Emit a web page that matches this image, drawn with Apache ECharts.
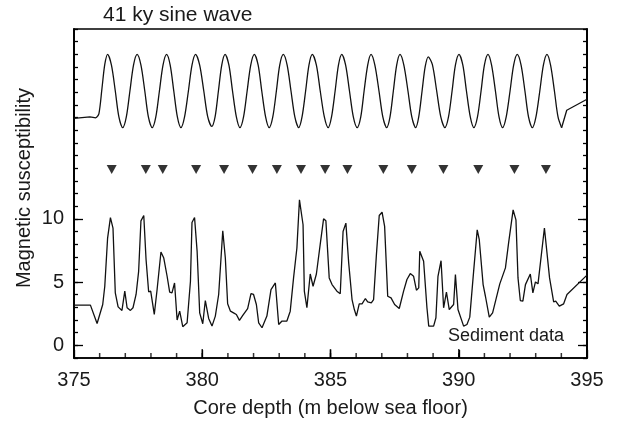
<!DOCTYPE html>
<html>
<head>
<meta charset="utf-8">
<script src="https://cdn.jsdelivr.net/npm/echarts@6/dist/echarts.min.js"></script>
<style>
html,body{margin:0;padding:0;background:#fff;}
#chart{width:618px;height:421px;}
</style>
</head>
<body>
<div id="chart"></div>
<script>
// ---- data ----
var sedDepth = [375.00,375.64,375.90,376.12,376.20,376.31,376.42,376.52,376.61,376.72,376.87,376.98,377.07,377.20,377.30,377.42,377.52,377.61,377.72,377.81,377.91,377.99,378.13,378.24,378.39,378.50,378.63,378.73,378.82,378.92,379.02,379.12,379.24,379.41,379.54,379.60,379.70,379.80,379.90,380.02,380.12,380.25,380.38,380.51,380.64,380.80,380.90,380.99,381.10,381.22,381.33,381.45,381.58,381.77,381.90,382.00,382.11,382.20,382.33,382.52,382.68,382.85,382.98,383.11,383.30,383.43,383.56,383.69,383.79,383.93,383.98,384.08,384.21,384.32,384.45,384.60,384.73,384.82,384.95,385.06,385.25,385.38,385.49,385.60,385.71,385.84,385.93,386.01,386.12,386.23,386.36,386.45,386.59,386.68,386.79,386.90,387.01,387.11,387.23,387.36,387.50,387.68,387.85,387.98,388.11,388.24,388.35,388.44,388.48,388.63,388.76,388.83,389.02,389.11,389.19,389.31,389.41,389.52,389.63,389.80,389.87,389.97,390.19,390.32,390.43,390.58,390.72,390.80,390.95,391.04,391.19,391.32,391.60,391.82,391.95,392.12,392.23,392.31,392.40,392.50,392.60,392.79,392.89,392.99,393.09,393.34,393.40,393.54,393.70,393.78,393.92,394.09,394.22,395.00];
var sedValue = [3.18,3.18,1.73,3.23,4.67,8.48,10.1,9.27,4.15,3.04,2.76,4.28,2.97,2.76,2.97,4.02,5.85,9.84,10.26,6.77,4.23,4.28,2.44,4.41,7.38,6.90,5.46,4.20,4.15,4.93,2.00,2.70,1.47,1.78,5.07,9.71,10.1,7.43,2.57,1.71,3.54,2.13,1.52,2.31,4.02,9.06,6.90,3.28,2.70,2.57,2.44,1.97,2.36,2.91,4.09,4.02,3.23,1.78,1.39,2.31,4.41,4.93,1.65,1.92,1.92,2.70,5.33,7.69,11.5,9.53,4.28,2.97,5.64,4.67,5.64,8.00,10.0,9.84,5.33,4.80,4.28,4.07,9.00,9.66,6.50,3.62,2.83,2.31,3.28,3.28,3.70,3.44,3.36,3.62,7.17,10.26,10.52,9.40,3.88,3.75,3.23,2.91,4.28,5.20,5.67,5.46,4.36,4.54,7.43,6.64,2.97,1.52,1.52,2.18,5.46,6.69,2.97,4.20,2.83,3.23,5.59,2.83,1.52,1.65,2.23,5.85,9.13,8.35,4.80,3.88,2.23,2.57,4.86,6.12,8.20,10.7,9.92,5.33,3.54,3.49,4.80,5.64,4.15,5.01,4.86,9.27,9.13,5.33,3.44,3.49,3.10,3.28,4.02,5.55];

// sine wave: lead-in, oscillating part, tail
var sineLeadDepth = [375.00,375.62,375.86];
var sineLeadValue = [17.93,18.06,17.98];
var sineDepth = [375.86,375.97,376.09,376.20,376.31,
 376.46,376.61,376.75,376.90, 377.04,377.18,377.32,377.46,
 377.61,377.76,377.90,378.05, 378.19,378.33,378.47,378.61,
 378.75,378.89,379.03,379.17, 379.31,379.46,379.60,379.74,
 379.90,380.06,380.21,380.37, 380.50,380.63,380.76,380.89,
 381.04,381.18,381.33,381.47, 381.61,381.75,381.89,382.03,
 382.18,382.32,382.47,382.61, 382.75,382.89,383.02,383.16,
 383.31,383.46,383.61,383.76, 383.89,384.03,384.16,384.29,
 384.45,384.60,384.76,384.91, 385.04,385.18,385.31,385.44,
 385.59,385.74,385.89,386.04, 386.18,386.31,386.45,386.58,
 386.73,386.89,387.04,387.19, 387.32,387.45,387.58,387.71,
 387.86,388.02,388.17,388.32, 388.44,388.57,388.69,388.81,
 388.97,389.14,389.30,389.46, 389.60,389.74,389.87,390.01,
 390.16,390.30,390.45,390.59, 390.73,390.87,391.00,391.14,
 391.28,391.43,391.57,391.71, 391.85,392.00,392.14,392.28,
 392.43,392.58,392.72,392.87, 393.01,393.16,393.30,393.44,
 393.58,393.73,393.87,394.01];
var sineValue = [17.98,18.3,20.3,22.2,23.0,
 22.15,20.1,18.05,17.2, 18.05,20.1,22.15,23.0,
 22.15,20.1,18.05,17.2, 18.05,20.1,22.15,23.0,
 22.15,20.1,18.05,17.2, 18.05,20.1,22.15,23.0,
 22.15,20.1,18.1,17.3, 18.05,20.1,22.15,23.0,
 22.15,20.1,18.05,17.2, 18.05,20.1,22.15,23.0,
 22.15,20.1,18.05,17.2, 18.05,20.1,22.15,23.0,
 22.15,20.1,18.05,17.2, 18.05,20.1,22.15,23.0,
 22.15,20.1,18.05,17.2, 18.05,20.1,22.15,23.0,
 22.15,20.1,18.05,17.2, 18.05,20.1,22.15,23.0,
 22.15,20.1,18.05,17.2, 18.05,20.1,22.15,23.0,
 22.15,20.1,18.05,17.2, 18.05,20.1,22.0,22.8,
 22.2,20.1,18.05,17.2, 18.05,20.1,22.15,23.0,
 22.15,20.1,18.05,17.2, 18.05,20.1,22.15,23.0,
 22.15,20.1,18.05,17.2, 18.05,20.1,22.15,23.0,
 22.15,20.1,18.05,17.2, 18.05,20.1,22.15,23.0,
 22.15,20.1,18.05,17.2];
var sineTailDepth = [394.01,394.21,395.00];
var sineTailValue = [17.2,18.58,19.45];

// tuning markers
var markerDepth = [376.47,377.80,378.46,379.76,380.85,381.96,382.91,383.85,384.79,385.66,387.06,388.17,389.40,390.76,392.17,393.40];
var markerValue = [13.9,13.9,13.9,13.9,13.9,13.9,13.9,13.9,13.9,13.9,13.9,13.9,13.9,13.9,13.9,13.9];

// axis ticks / labels
var xTickLabels = [375,380,385,390,395];
var xMinorTicks = [375,376,377,378,379,380,381,382,383,384,385,386,387,388,389,390,391,392,393,394,395];
var yTickLabels = [0,5,10];

var titleText = '41 ky sine wave';
var sedLabel = 'Sediment data';
var xName = 'Core depth (m below sea floor)';
var yName = 'Magnetic susceptibility';

// ---- chart ----
var Y_MIN = -1, Y_MAX = 25;
function pairs(a,b){var r=[];for(var i=0;i<a.length;i++){r.push([a[i],b[i]]);}return r;}
function atBottom(a){var r=[];for(var i=0;i<a.length;i++){r.push([a[i],Y_MIN]);}return r;}
var FONT = 'Liberation Sans, Arial, Helvetica, sans-serif';
var TXT = '#1a1a1a';
var LINE = '#111';
var AX = {color:'#000', width:1.5};
var TK = {color:'#000', width:1.3};

var chart = echarts.init(document.getElementById('chart'), null, {renderer:'canvas'});
var minorY = [];
for (var t = Y_MIN; t <= Y_MAX; t++) minorY.push(t);

var option = {
  animation: false,
  backgroundColor: '#fff',
  grid: {left:74, right:31, top:29, bottom:63, containLabel:false, outerBoundsMode:'none',
         show:true, borderColor:'#000', borderWidth:1.5, backgroundColor:'transparent'},
  xAxis: [{
    type:'value', min:375, max:395, position:'bottom', zlevel:1, z:10,
    axisLine:{show:true, onZero:false, lineStyle:AX},
    axisTick:{show:true, inside:true, length:8, customValues:xTickLabels, lineStyle:TK},
    splitLine:{show:false},
    axisLabel:{customValues:xTickLabels, fontSize:20, color:TXT, fontFamily:FONT, margin:12},
    name:xName, nameLocation:'middle', nameGap:40,
    nameTextStyle:{fontSize:20, color:TXT, fontFamily:FONT}
  }],
  yAxis: [{
    type:'value', min:Y_MIN, max:Y_MAX, position:'left',
    axisLine:{show:true, onZero:false, lineStyle:AX},
    axisTick:{show:true, inside:true, length:4, customValues:minorY, lineStyle:TK},
    splitLine:{show:false},
    axisLabel:{customValues:yTickLabels, fontSize:20, color:TXT, fontFamily:FONT, margin:10}
  },{
    type:'value', min:Y_MIN, max:Y_MAX, position:'left',
    axisLine:{show:true, onZero:false, lineStyle:AX},
    axisTick:{show:true, inside:true, length:9, customValues:yTickLabels, lineStyle:TK},
    splitLine:{show:false}, axisLabel:{show:false}
  },{
    type:'value', min:Y_MIN, max:Y_MAX, position:'right',
    axisLine:{show:true, onZero:false, lineStyle:AX},
    axisTick:{show:true, inside:true, length:4, customValues:minorY, lineStyle:TK},
    splitLine:{show:false}, axisLabel:{show:false}
  },{
    type:'value', min:Y_MIN, max:Y_MAX, position:'right',
    axisLine:{show:true, onZero:false, lineStyle:AX},
    axisTick:{show:true, inside:true, length:9, customValues:yTickLabels, lineStyle:TK},
    splitLine:{show:false}, axisLabel:{show:false}
  }],
  graphic: [
    {type:'text', left:103, top:5, style:{text:titleText, fontSize:21, fill:TXT, fontFamily:FONT}},
    {type:'text', left:448, top:327, style:{text:sedLabel, fontSize:18, fill:TXT, fontFamily:FONT}},
    {type:'text', x:24, y:188, rotation:Math.PI/2, style:{text:yName, fontSize:20, fill:TXT, fontFamily:FONT, align:'center', verticalAlign:'middle'}}
  ],
  series: [
    {type:'line', data:pairs(sedDepth, sedValue), showSymbol:false, lineStyle:{color:LINE, width:1.3}, silent:true},
    {type:'line', data:pairs(sineLeadDepth, sineLeadValue), showSymbol:false, lineStyle:{color:LINE, width:1.3}, silent:true},
    {type:'line', data:pairs(sineDepth, sineValue), smooth:0.3, showSymbol:false, lineStyle:{color:LINE, width:1.3}, silent:true},
    {type:'line', data:pairs(sineTailDepth, sineTailValue), showSymbol:false, lineStyle:{color:LINE, width:1.3}, silent:true},
    {type:'scatter', data:pairs(markerDepth, markerValue), symbol:'path://M0,0 L10,0 L5,9 Z', symbolSize:[10,9], itemStyle:{color:'#000'}, silent:true},
    // x-axis tick marks on the bottom edge (minor every 1 m, major every 5 m)
    {type:'scatter', data:atBottom(xMinorTicks), symbol:'rect', symbolSize:[1.5,5], symbolOffset:[0,-2.5], itemStyle:{color:'#000'}, clip:false, silent:true, zlevel:2, z:20},
    {type:'scatter', data:atBottom(xTickLabels), symbol:'rect', symbolSize:[1.5,9], symbolOffset:[0,-4.5], itemStyle:{color:'#000'}, clip:false, silent:true, zlevel:2, z:20}
  ]
};
chart.setOption(option);
</script>
</body>
</html>
